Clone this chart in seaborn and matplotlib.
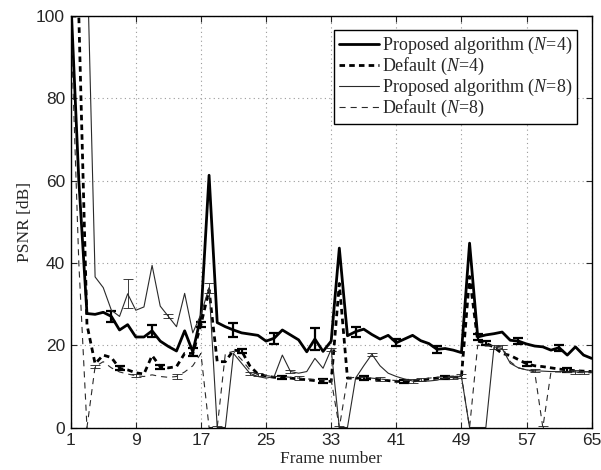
import numpy as np
import pandas as pd
import matplotlib
matplotlib.use("Agg")
import matplotlib.pyplot as plt
import seaborn as sns

# PSNR per frame
frames = list(range(1, 66))

prop_n4 = [105, 60, 27.7, 27.5, 28, 27, 23.7, 25, 22, 22,
           23.5, 21, 19.7, 18.6, 23.5, 18.4, 27, 61.3, 25.5, 24.5,
           23.7, 23, 22.7, 22.4, 21, 21.7, 23.7, 22.5, 21.3, 18.4,
           21.5, 18.5, 21, 43.6, 22.3, 23.3, 23.9, 22.6, 21.5, 22.4,
           20.6, 21.5, 22.4, 21.1, 20.4, 19, 19.2, 18.8, 18.2, 44.8,
           22, 22.5, 22.8, 23.2, 21.2, 21, 20.3, 19.8, 19.6, 18.8,
           19.4, 17.6, 19.6, 17.6, 16.8]

def_n4 = [100, 100, 25, 15.5, 17.6, 17, 14.4, 14, 13.3, 13,
          17.5, 14.8, 14.5, 14.8, 18, 18, 25, 33.5, 16, 16,
          18.8, 18.6, 15, 13, 12.5, 12.2, 12.2, 12, 11.8, 11.6,
          11.4, 11.3, 11.2, 35, 12, 12, 12, 11.8, 11.6, 11.4,
          11.2, 11.2, 11.3, 11.5, 11.8, 12, 12.2, 12.2, 12.3, 36.7,
          21, 20.5, 19.5, 18, 17.5, 16.5, 15.5, 15, 14.8, 14.5,
          14.2, 14, 13.8, 13.7, 13.6]

prop_n8 = [120, 120, 116, 36.6, 34, 28.5, 27, 32.5, 28.5, 29.3,
           39.4, 29.5, 27, 24.5, 32.6, 23, 27.5, 34, 0, 0,
           18, 15.6, 13.2, 12.4, 12, 12.4, 17.6, 13.6, 13.2, 13.6,
           16.8, 14.4, 19, 0, 0, 12, 15, 17.8, 15, 13.2,
           12.4, 11.8, 11.3, 11.2, 11.3, 11.5, 12, 12.2, 12.4, 0,
           0, 0, 19.6, 19.2, 15.6, 14.5, 14, 13.8, 13.7, 13.6,
           13.6, 13.5, 13.5, 13.5, 13.5]

def_n8 = [100, 40, 0, 14.8, 16, 14.5, 13.5, 13, 12.6, 12.4,
          12.8, 12.4, 12.2, 12.4, 13.5, 15, 18, 0, 0, 18,
          18.5, 16.5, 14, 12.8, 12.6, 12.4, 12.4, 12.2, 12, 11.8,
          11.7, 11.6, 11.6, 0, 12, 12.2, 12.2, 12, 11.8, 11.6,
          11.4, 11.4, 11.5, 11.7, 12, 12.2, 12.4, 12.5, 12.5, 0,
          20, 19.8, 19.8, 19.6, 16, 14.5, 14, 13.5, 0, 13.5,
          13.5, 13.4, 13.4, 13.3, 13.3]

# error bars (frame, half-width)
prop_n4_err_frames = [6, 11, 16, 21, 26, 31, 36, 41, 46, 51, 56, 61]
prop_n4_err = [1.4, 1.4, 1.0, 1.6, 1.3, 2.6, 1.2, 0.8, 0.8, 0.7, 0.8, 0.7]
prop_n8_err_frames = [8, 13, 18, 23, 28, 33, 38, 43, 48, 53, 58, 63]
prop_n8_err = [3.5, 0.5, 1.2, 0.4, 0.4, 0.4, 0.4, 0.4, 0.4, 0.5, 0.4, 0.4]
def_n4_err_frames = [7, 12, 17, 22, 27, 32, 37, 42, 47, 52, 57, 62]
def_n4_err = [0.5, 0.5, 0.6, 0.5, 0.4, 0.4, 0.5, 0.4, 0.4, 0.5, 0.5, 0.4]
def_n8_err_frames = [4, 9, 14, 19, 24, 29, 34, 39, 44, 49, 54, 59, 64]
def_n8_err = [0.4, 0.4, 0.5, 0.4, 0.4, 0.4, 0.4, 0.4, 0.4, 0.4, 0.5, 0.4, 0.4]

labels = ["Proposed algorithm ($N$=4)", "Default ($N$=4)",
          "Proposed algorithm ($N$=8)", "Default ($N$=8)"]

sns.set_style("ticks")
plt.rcParams["mathtext.fontset"] = "custom"
plt.rcParams["mathtext.rm"] = "Liberation Serif"
plt.rcParams["mathtext.it"] = "Liberation Serif:italic"

fig = plt.figure(figsize=(6.01, 4.70), dpi=100)
ax = fig.add_axes([0.1176, 0.0904, 0.8669, 0.8755])

series = [
    (prop_n4, prop_n4_err_frames, prop_n4_err, "black", 2.0, "-"),
    (def_n4, def_n4_err_frames, def_n4_err, "black", 2.0, (0, (2.0, 1.5))),
    (prop_n8, prop_n8_err_frames, prop_n8_err, "#2a2a2a", 0.8, "-"),
    (def_n8, def_n8_err_frames, def_n8_err, "#2a2a2a", 0.8, (0, (5.5, 4.5))),
]

for (vals, ef, ev, col, lw, ls), lab in zip(series, labels):
    df = pd.DataFrame({"frame": frames, "psnr": vals})
    sns.lineplot(data=df, x="frame", y="psnr", ax=ax, color=col,
                 linewidth=lw, linestyle=ls, label=lab)
    ey = [vals[f - 1] for f in ef]
    ax.errorbar(ef, ey, yerr=ev, fmt="none", ecolor=col,
                elinewidth=lw * 0.8, capsize=3.5, capthick=lw * 0.8)

ax.set_xlim(1, 65)
ax.set_ylim(0, 100)
ax.set_xticks(range(1, 66, 8))
ax.set_yticks(range(0, 101, 20))
ax.grid(True, linestyle=(0, (1, 3)), color="#9a9a9a", linewidth=0.8)
ax.tick_params(direction="in", top=True, right=True, length=4, width=0.8,
               labelsize=12.5, pad=4)
for lbl in ax.get_xticklabels() + ax.get_yticklabels():
    lbl.set_family("Liberation Sans")
for sp in ax.spines.values():
    sp.set_linewidth(1.0)
    sp.set_color("black")

ax.set_xlabel("Frame number", family="Liberation Serif", fontsize=12.5,
              labelpad=2)
ax.set_ylabel("PSNR [dB]", family="Liberation Serif", fontsize=12.5,
              labelpad=2)

leg = ax.legend(loc="upper right", fancybox=False, framealpha=1,
                edgecolor="black", handlelength=2.2, handletextpad=0.2,
                labelspacing=0.0, borderpad=0.25, borderaxespad=0.8,
                prop={"family": "Liberation Serif", "size": 13})
leg.get_frame().set_linewidth(1.0)

fig.savefig("out.png", dpi=100)
